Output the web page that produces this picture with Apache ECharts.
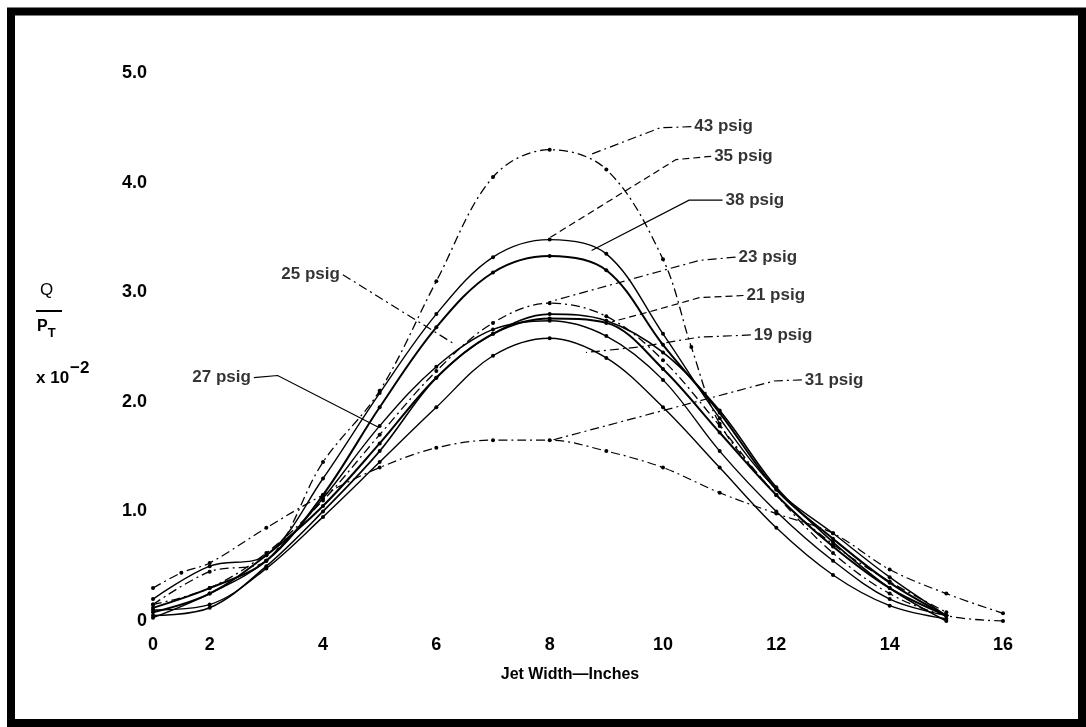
<!DOCTYPE html>
<html><head><meta charset="utf-8">
<script src="https://cdn.jsdelivr.net/npm/echarts@6/dist/echarts.min.js"></script>
<style>html,body{margin:0;padding:0;background:#fff}#c{width:1086px;height:727px}</style>
</head><body><div id="c"></div>
<script>
// ---- Data (x in plotted inches; the first station is labelled "0") ----
const xTickValues = [1, 2, 4, 6, 8, 10, 12, 14, 16];
const xTickLabels = ['0', '2', '4', '6', '8', '10', '12', '14', '16'];
const yTickLabels = ['0', '1.0', '2.0', '3.0', '4.0', '5.0'];

const xStd = [1, 2, 3, 4, 5, 6, 7, 8, 9, 10, 11, 12, 13, 14, 15];
const y19 = [0.10, 0.15, 0.48, 0.95, 1.45, 1.95, 2.42, 2.58, 2.40, 1.95, 1.40, 0.85, 0.42, 0.14, 0.02];
const y21 = [0.08, 0.25, 0.60, 1.05, 1.62, 2.22, 2.62, 2.76, 2.72, 2.30, 1.72, 1.15, 0.68, 0.30, 0.05];
const y23 = [0.15, 0.30, 0.62, 1.10, 1.70, 2.28, 2.72, 2.90, 2.78, 2.38, 1.78, 1.15, 0.70, 0.36, 0.08];
const y25 = [0.05, 0.12, 0.50, 1.00, 1.55, 2.22, 2.62, 2.80, 2.74, 2.45, 1.92, 1.22, 0.72, 0.30, 0.00];
const y27 = [0.03, 0.25, 0.55, 1.12, 1.78, 2.32, 2.66, 2.74, 2.60, 2.20, 1.55, 1.00, 0.55, 0.20, 0.05];
const x31 = [1, 1.5, 2, 3, 4, 5, 6, 7, 8, 9, 10, 11, 12, 13, 14, 15, 16];
const y31 = [0.30, 0.44, 0.53, 0.85, 1.15, 1.40, 1.58, 1.65, 1.65, 1.55, 1.40, 1.17, 0.98, 0.80, 0.47, 0.25, 0.07];
const y35 = [0.20, 0.50, 0.60, 1.30, 2.08, 2.80, 3.32, 3.48, 3.35, 2.62, 1.85, 1.20, 0.80, 0.40, 0.05];
const y38 = [0.12, 0.30, 0.55, 1.15, 1.95, 2.68, 3.18, 3.33, 3.20, 2.52, 1.90, 1.20, 0.75, 0.35, 0.05];
const x43 = [1, 2, 3, 4, 5, 6, 7, 8, 9, 10, 10.5, 11, 12, 13, 14, 15, 16];
const y43 = [0.15, 0.45, 0.55, 1.45, 2.10, 3.10, 4.05, 4.30, 4.12, 3.30, 2.50, 1.80, 1.15, 0.62, 0.25, 0.05, 0.00];

// annotation labels: text, anchor side, leader polyline (data coords, first point at text)
const noteNames = ['43 psig', '35 psig', '38 psig', '23 psig', '21 psig', '19 psig', '31 psig', '25 psig', '27 psig'];
const noteSides = ['right', 'right', 'right', 'right', 'right', 'right', 'right', 'left', 'left'];
const noteLeaders = [
  [[10.50, 4.51], [9.95, 4.50], [8.69, 4.25]],
  [[10.85, 4.24], [10.23, 4.21], [7.98, 3.49]],
  [[11.05, 3.84], [10.46, 3.84], [8.74, 3.38]],
  [[11.28, 3.32], [10.64, 3.29], [7.98, 2.91]],
  [[11.42, 2.97], [10.64, 2.95], [9.75, 2.82], [9.10, 2.73]],
  [[11.55, 2.61], [10.64, 2.59], [9.58, 2.50], [8.64, 2.45]],
  [[12.45, 2.20], [11.96, 2.19], [8.04, 1.65]],
  [[4.35, 3.16], [6.34, 2.52]],
  [[2.78, 2.22], [3.20, 2.24], [4.97, 1.77]]
];

const DD = [9, 4, 2, 4];   // dash-dot
const DASH = [7, 4];

function pairs(xs, ys) { return xs.map((x, i) => [x, ys[i]]); }

const curves = [
  { name: '19 psig', xs: xStd, ys: y19, w: 1.4, t: 'solid' },
  { name: '21 psig', xs: xStd, ys: y21, w: 2.0, t: 'solid' },
  { name: '23 psig', xs: xStd, ys: y23, w: 1.3, t: DD },
  { name: '25 psig', xs: xStd, ys: y25, w: 1.6, t: 'solid' },
  { name: '27 psig', xs: xStd, ys: y27, w: 1.4, t: 'solid' },
  { name: '31 psig', xs: x31, ys: y31, w: 1.2, t: DD },
  { name: '35 psig', xs: xStd, ys: y35, w: 1.4, t: 'solid' },
  { name: '38 psig', xs: xStd, ys: y38, w: 2.0, t: 'solid' },
  { name: '43 psig', xs: x43, ys: y43, w: 1.3, t: DD }
];
const leaderTypes = [DD, DASH, 'solid', DD, DASH, DD, DD, DD, 'solid'];

const FONT = '"Liberation Sans", Arial, sans-serif';

const series = curves.map(c => ({
  type: 'line', name: c.name, data: pairs(c.xs, c.ys), smooth: 0.35,
  symbol: 'circle', symbolSize: 4, showSymbol: true,
  lineStyle: { color: '#000', width: c.w, type: c.t },
  itemStyle: { color: '#000' }, z: 3
}));

series.push({
  type: 'lines', coordinateSystem: 'cartesian2d', polyline: true, silent: true, z: 2,
  data: noteLeaders.map((pts, i) => ({ coords: pts, lineStyle: { type: leaderTypes[i] } })),
  lineStyle: { color: '#000', width: 1.2, opacity: 1 }
});

series.push({
  type: 'scatter', symbolSize: 0, silent: true, z: 5,
  data: noteLeaders.map((pts, i) => ({
    value: pts[0], name: noteNames[i],
    label: { show: true, position: noteSides[i], distance: 3, formatter: noteNames[i],
      color: '#000', fontFamily: FONT, fontWeight: 'bold', fontSize: 17 }
  }))
});

const chart = echarts.init(document.getElementById('c'), null, { renderer: 'canvas' });
chart.setOption({
  backgroundColor: '#fff',
  animation: false,
  grid: { left: 153, right: 83, top: 73, bottom: 106 },
  xAxis: {
    type: 'value', min: 1, max: 16, interval: 1,
    name: 'Jet Width\u2014Inches', nameLocation: 'middle', nameGap: 46,
    nameTextStyle: { color: '#000', fontFamily: FONT, fontWeight: 'bold', fontSize: 16, padding: [0, 16, 0, 0] },
    axisLine: { show: false }, axisTick: { show: false }, splitLine: { show: false },
    axisLabel: {
      margin: 15, color: '#000', fontFamily: FONT, fontWeight: 'bold', fontSize: 18,
      formatter: v => { const k = xTickValues.indexOf(v); return k >= 0 ? xTickLabels[k] : ''; }
    }
  },
  yAxis: {
    type: 'value', min: 0, max: 5, interval: 1,
    axisLine: { show: false }, axisTick: { show: false }, splitLine: { show: false },
    axisLabel: {
      margin: 6, color: '#000', fontFamily: FONT, fontWeight: 'bold', fontSize: 18,
      formatter: v => yTickLabels[Math.round(v)]
    }
  },
  graphic: [
    { type: 'rect', shape: { x: 11, y: 11.5, width: 1071, height: 711.5 },
      style: { fill: 'none', stroke: '#000', lineWidth: 8 }, z: 10 },
    { type: 'text', left: 40, top: 282, style: { text: 'Q', font: '17px ' + FONT, fill: '#000' } },
    { type: 'line', shape: { x1: 36, y1: 311, x2: 62, y2: 311 }, style: { stroke: '#000', lineWidth: 2 } },
    { type: 'text', left: 37, top: 319, style: {
        text: '{p|P}{s|T}', fill: '#000',
        rich: { p: { font: 'bold 16px ' + FONT, fill: '#000' },
                s: { font: 'bold 13px ' + FONT, fill: '#000', padding: [12, 0, 0, 0] } } } },
    { type: 'text', left: 36, top: 360, style: {
        text: '{a|x 10}{b|\u22122}', fill: '#000',
        rich: { a: { font: 'bold 17px ' + FONT, fill: '#000', padding: [11, 0, 0, 0] },
                b: { font: 'bold 17px ' + FONT, fill: '#000', padding: [0, 0, 9, 1] } } } }
  ],
  series: series
});
</script>
</body></html>
